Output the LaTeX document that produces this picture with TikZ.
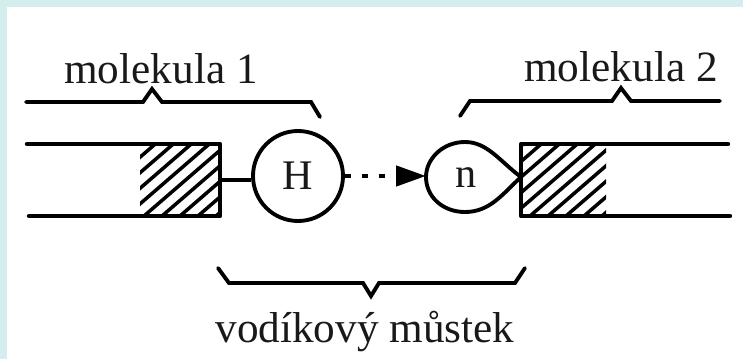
\documentclass[tikz,border=0pt]{standalone}
\usepackage{fontspec}
\setmainfont{Liberation Serif}
\usetikzlibrary{arrows.meta,calc}
\definecolor{edgeteal}{RGB}{212,238,238}
\tikzset{
	wall/.style={line width=2.5pt,line cap=round,line join=round},
	brace/.style={line width=2.2pt,line cap=round,line join=miter},
	hatchline/.style={line width=2pt},
	label/.style={font=\fontsize{24.6pt}{28pt}\selectfont,inner sep=0pt,text=black!90},
	atom/.style={font=\fontsize{24pt}{28pt}\selectfont,inner sep=0pt,text=black!90}
}
\begin{document}
\begin{tikzpicture}
	% frame of the page
	\useasboundingbox (0,0) rectangle (14.86,7.18);
	\fill[edgeteal] (0,0) rectangle (14.86,7.18);
	\fill[white] (0.14,0) rectangle (14.86,7.04);
	
	% left molecule
	\begin{scope}
		\clip (2.8,2.86) rectangle (4.4,4.3);
		\foreach \i in {-8,...,4}{
			\draw[hatchline] ($(3.6,2.86)+(0.36*\i,0)$) -- ++(1.7,1.47);
		}
	\end{scope}
	\coordinate (wallA) at (0.54,4.3);
	\coordinate (wallB) at (4.4,4.3);
	\coordinate (wallC) at (4.4,2.86);
	\coordinate (wallD) at (0.58,2.86);
	\draw[wall] (wallA) -- (wallB) -- (wallC) -- (wallD);
	
	% H atom
	\node[circle,draw=black,line width=2.2pt,minimum size=1.8cm,inner sep=0pt,atom] (H) at (5.96,3.66) {H};
	\coordinate (stub) at (4.4,3.58);
	\draw[line width=2.2pt] (stub) -- (stub -| H.west);
	
	% right molecule
	\begin{scope}
		\clip (10.42,2.86) rectangle (12.12,4.3);
		\foreach \i in {-8,...,4}{
			\draw[hatchline] ($(10.6,2.86)+(0.36*\i,0)$) -- ++(1.7,1.47);
		}
	\end{scope}
	\coordinate (wallE) at (14.56,4.3);
	\coordinate (wallF) at (10.42,4.3);
	\coordinate (wallG) at (10.42,2.86);
	\coordinate (wallH) at (14.6,2.86);
	\draw[wall] (wallE) -- (wallF) -- (wallG) -- (wallH);
	
	% n lone pair
	\node[atom] (n) at (9.32,3.62) {n};
	\coordinate (tip) at (10.42,3.64);
	\draw[line width=2.2pt] (tip) .. controls (10.0,3.95) and (9.75,4.34) .. (9.3,4.34) .. controls (8.85,4.34) and (8.52,4.0) .. (8.52,3.64) .. controls (8.52,3.25) and (8.85,2.94) .. (9.3,2.94) .. controls (9.8,2.94) and (10.05,3.3) .. (tip);
	
	% hydrogen bond
	\coordinate (bond) at (8.52,3.66);
	\draw[line width=2.6pt,dash pattern=on 3.5pt off 6.1pt,-{Triangle[length=0.6cm,width=0.4cm]}] (H.east) -- (bond);
	
	% braces
	\node[label] (mol1) at (3.22,5.8) {molekula 1};
	\node[label] (mol2) at (12.42,5.84) {molekula 2};
	\node[label] (bridge) at (7.3,0.54) {vodíkový můstek};
	\draw[brace] (0.52,5.14) -- (2.86,5.14) -- (3.04,5.4) -- (3.24,5.14) -- (6.22,5.14) -- (6.4,4.84);
	\draw[brace] (9.2,4.86) -- (9.4,5.16) -- (12.24,5.16) -- (12.42,5.42) -- (12.62,5.16) -- (14.4,5.16);
	\draw[brace] (4.36,1.82) -- (4.58,1.52) -- (7.26,1.52) -- (7.42,1.26) -- (7.58,1.52) -- (10.3,1.52) -- (10.5,1.82);
\end{tikzpicture}
\end{document}
